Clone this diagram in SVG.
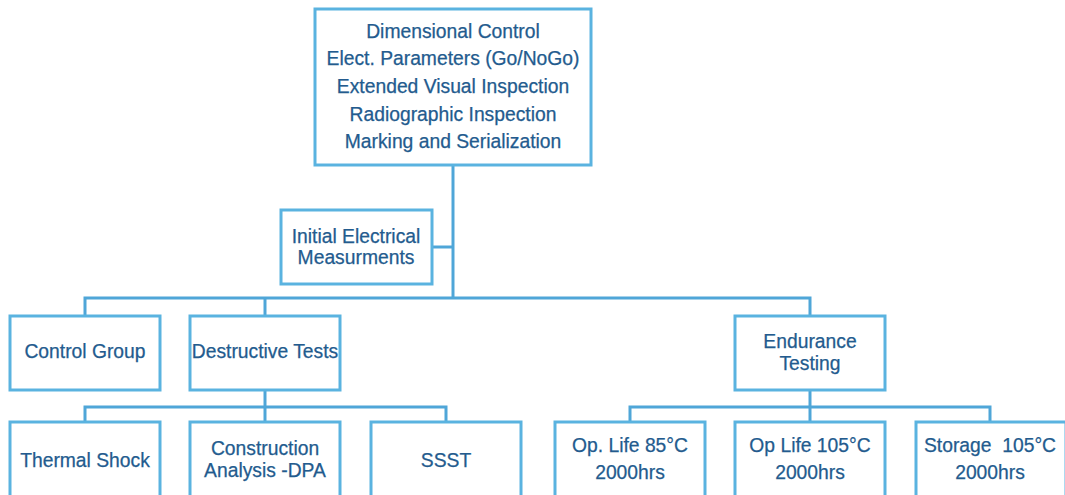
<svg xmlns="http://www.w3.org/2000/svg" width="1065" height="495" viewBox="0 0 1065 495">
  <style>
    .box { fill: #ffffff; stroke: #5ab3e0; stroke-width: 3; }
    .wire { fill: none; stroke: #4fa6d8; stroke-width: 3; }
    .lbl { font-family: "Liberation Sans", Arial, sans-serif; font-size: 19.3px; fill: #235b8e; stroke: #235b8e; stroke-width: 0.25; text-anchor: middle; }
  </style>
  <rect width="1065" height="495" fill="#ffffff"/>

  <g id="connectors">
    <!-- main trunk and first level bus -->
    <path class="wire" d="M453 165 V298"/>
    <path class="wire" d="M432 247 H453"/>
    <path class="wire" d="M85 316 V298 H810 V316"/>
    <path class="wire" d="M265 298 V316"/>
    <!-- destructive tests branch -->
    <path class="wire" d="M265 390 V407"/>
    <path class="wire" d="M85 422 V407 H446 V422"/>
    <path class="wire" d="M265 407 V422"/>
    <!-- endurance branch -->
    <path class="wire" d="M810 390 V407"/>
    <path class="wire" d="M630 422 V407 H990 V422"/>
    <path class="wire" d="M810 407 V422"/>
  </g>

  <g id="screening">
    <rect class="box" x="315" y="9" width="276" height="156"/>
    <text class="lbl" x="453" y="38">Dimensional Control</text>
    <text class="lbl" x="453" y="65">Elect. Parameters (Go/NoGo)</text>
    <text class="lbl" x="453" y="93">Extended Visual Inspection</text>
    <text class="lbl" x="453" y="121">Radiographic Inspection</text>
    <text class="lbl" x="453" y="148">Marking and Serialization</text>
  </g>

  <g id="initial-electrical">
    <rect class="box" x="281" y="210" width="151" height="74"/>
    <text class="lbl" x="356" y="243">Initial Electrical</text>
    <text class="lbl" x="356" y="264">Measurments</text>
  </g>

  <g id="control-group">
    <rect class="box" x="10" y="316" width="150" height="74"/>
    <text class="lbl" x="85" y="358">Control Group</text>
  </g>

  <g id="destructive-tests">
    <rect class="box" x="190" y="316" width="150" height="74"/>
    <text class="lbl" x="265" y="358">Destructive Tests</text>
  </g>

  <g id="endurance-testing">
    <rect class="box" x="735" y="316" width="150" height="74"/>
    <text class="lbl" x="810" y="348">Endurance</text>
    <text class="lbl" x="810" y="370">Testing</text>
  </g>

  <g id="thermal-shock">
    <rect class="box" x="10" y="422" width="150" height="80"/>
    <text class="lbl" x="85" y="467">Thermal Shock</text>
  </g>

  <g id="construction-analysis">
    <rect class="box" x="190" y="422" width="150" height="80"/>
    <text class="lbl" x="265" y="455">Construction</text>
    <text class="lbl" x="265" y="477">Analysis -DPA</text>
  </g>

  <g id="ssst">
    <rect class="box" x="371" y="422" width="150" height="80"/>
    <text class="lbl" x="446" y="467">SSST</text>
  </g>

  <g id="op-life-85">
    <rect class="box" x="555" y="422" width="150" height="80"/>
    <text class="lbl" x="630" y="452">Op. Life 85°C</text>
    <text class="lbl" x="630" y="479">2000hrs</text>
  </g>

  <g id="op-life-105">
    <rect class="box" x="735" y="422" width="150" height="80"/>
    <text class="lbl" x="810" y="452">Op Life 105°C</text>
    <text class="lbl" x="810" y="479">2000hrs</text>
  </g>

  <g id="storage-105">
    <rect class="box" x="916" y="422" width="150" height="80"/>
    <text class="lbl" x="990" y="452" xml:space="preserve">Storage  105°C</text>
    <text class="lbl" x="990" y="479">2000hrs</text>
  </g>
</svg>
